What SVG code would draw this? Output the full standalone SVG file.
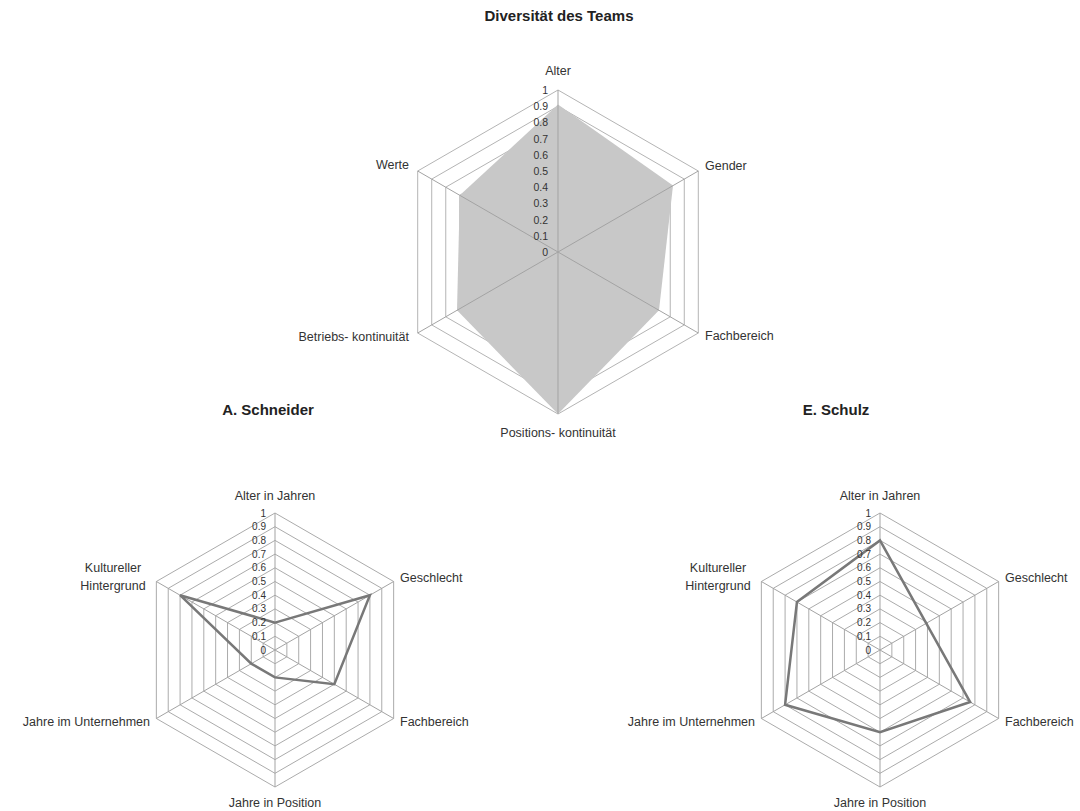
<svg xmlns="http://www.w3.org/2000/svg" width="1080" height="811" viewBox="0 0 1080 811">
<style>
text{font-family:"Liberation Sans",Arial,sans-serif;fill:#333}
.title{font-size:15px;font-weight:bold;fill:#222;text-anchor:middle}
.lab{font-size:12.5px}
.tick{font-size:10px;text-anchor:end;dominant-baseline:central}
.tickT{font-size:10.5px;text-anchor:end;dominant-baseline:central}
.mid{text-anchor:middle}
.end{text-anchor:end}
.ring{fill:none;stroke:#ababab;stroke-width:1}
.ringT{fill:none;stroke:#b4b4b4;stroke-width:1}
.spoke{stroke:#a3a3a3;stroke-width:1}
.area{fill:#c8c8c8;stroke:none}
.data{fill:none;stroke:#787878;stroke-width:2.5;stroke-linejoin:miter}
</style>
<rect width="1080" height="811" fill="#fff"/>

<g id="chart-team">
<text class="title" x="559" y="21">Diversität des Teams</text>
<g transform="translate(558,252)">
<polygon class="ringT" points="0,-113.4 98.21,-56.7 98.21,56.7 0,113.4 -98.21,56.7 -98.21,-56.7"/>
<polygon class="ringT" points="0,-129.6 112.24,-64.8 112.24,64.8 0,129.6 -112.24,64.8 -112.24,-64.8"/>
<polygon class="ringT" points="0,-145.8 126.27,-72.9 126.27,72.9 0,145.8 -126.27,72.9 -126.27,-72.9"/>
<polygon class="ringT" points="0,-162 140.3,-81 140.3,81 0,162 -140.3,81 -140.3,-81"/>
<polygon class="area" points="0,-147.4 115,-66.4 101,58.3 0,162 -101,58.3 -98.2,-56.7"/>
<line class="spoke" x1="0" y1="0" x2="0" y2="-162"/>
<line class="spoke" x1="0" y1="0" x2="140.3" y2="-81"/>
<line class="spoke" x1="0" y1="0" x2="140.3" y2="81"/>
<line class="spoke" x1="0" y1="0" x2="0" y2="162"/>
<line class="spoke" x1="0" y1="0" x2="-140.3" y2="81"/>
<line class="spoke" x1="0" y1="0" x2="-140.3" y2="-81"/>
<text class="tickT" x="-10" y="-162">1</text>
<text class="tickT" x="-10" y="-145.8">0.9</text>
<text class="tickT" x="-10" y="-129.6">0.8</text>
<text class="tickT" x="-10" y="-113.4">0.7</text>
<text class="tickT" x="-10" y="-97.2">0.6</text>
<text class="tickT" x="-10" y="-81">0.5</text>
<text class="tickT" x="-10" y="-64.8">0.4</text>
<text class="tickT" x="-10" y="-48.6">0.3</text>
<text class="tickT" x="-10" y="-32.4">0.2</text>
<text class="tickT" x="-10" y="-16.2">0.1</text>
<text class="tickT" x="-10" y="0">0</text>
</g>
<text class="lab mid" x="558" y="75">Alter</text>
<text class="lab" x="705" y="170">Gender</text>
<text class="lab" x="705" y="340">Fachbereich</text>
<text class="lab mid" x="558" y="437">Positions- kontinuität</text>
<text class="lab end" x="409" y="341">Betriebs- kontinuität</text>
<text class="lab end" x="409" y="169">Werte</text>
</g>

<defs>
<g id="grid">
<polygon class="ring" points="0,-13.7 11.86,-6.85 11.86,6.85 0,13.7 -11.86,6.85 -11.86,-6.85"/>
<polygon class="ring" points="0,-27.4 23.73,-13.7 23.73,13.7 0,27.4 -23.73,13.7 -23.73,-13.7"/>
<polygon class="ring" points="0,-41.1 35.59,-20.55 35.59,20.55 0,41.1 -35.59,20.55 -35.59,-20.55"/>
<polygon class="ring" points="0,-54.8 47.46,-27.4 47.46,27.4 0,54.8 -47.46,27.4 -47.46,-27.4"/>
<polygon class="ring" points="0,-68.5 59.32,-34.25 59.32,34.25 0,68.5 -59.32,34.25 -59.32,-34.25"/>
<polygon class="ring" points="0,-82.2 71.19,-41.1 71.19,41.1 0,82.2 -71.19,41.1 -71.19,-41.1"/>
<polygon class="ring" points="0,-95.9 83.05,-47.95 83.05,47.95 0,95.9 -83.05,47.95 -83.05,-47.95"/>
<polygon class="ring" points="0,-109.6 94.92,-54.8 94.92,54.8 0,109.6 -94.92,54.8 -94.92,-54.8"/>
<polygon class="ring" points="0,-123.3 106.78,-61.65 106.78,61.65 0,123.3 -106.78,61.65 -106.78,-61.65"/>
<polygon class="ring" points="0,-137 118.65,-68.5 118.65,68.5 0,137 -118.65,68.5 -118.65,-68.5"/>
<line class="spoke" x1="0" y1="0" x2="0" y2="-137"/>
<line class="spoke" x1="0" y1="0" x2="118.65" y2="-68.5"/>
<line class="spoke" x1="0" y1="0" x2="118.65" y2="68.5"/>
<line class="spoke" x1="0" y1="0" x2="0" y2="137"/>
<line class="spoke" x1="0" y1="0" x2="-118.65" y2="68.5"/>
<line class="spoke" x1="0" y1="0" x2="-118.65" y2="-68.5"/>
</g>
<g id="ticks">
<text class="tick" x="-9" y="-137">1</text>
<text class="tick" x="-9" y="-123.3">0.9</text>
<text class="tick" x="-9" y="-109.6">0.8</text>
<text class="tick" x="-9" y="-95.9">0.7</text>
<text class="tick" x="-9" y="-82.2">0.6</text>
<text class="tick" x="-9" y="-68.5">0.5</text>
<text class="tick" x="-9" y="-54.8">0.4</text>
<text class="tick" x="-9" y="-41.1">0.3</text>
<text class="tick" x="-9" y="-27.4">0.2</text>
<text class="tick" x="-9" y="-13.7">0.1</text>
<text class="tick" x="-9" y="0">0</text>
</g>
</defs>

<g id="chart-schneider">
<text class="title" x="268" y="415">A. Schneider</text>
<g transform="translate(275,650)">
<use href="#grid"/>
<polygon class="data" points="0,-27.4 94.92,-54.8 59.32,34.25 0,27.4 -23.73,13.7 -94.92,-54.8"/>
<use href="#ticks"/>
</g>
<text class="lab mid" x="275" y="500">Alter in Jahren</text>
<text class="lab" x="400" y="582">Geschlecht</text>
<text class="lab" x="400" y="726">Fachbereich</text>
<text class="lab mid" x="275" y="807">Jahre in Position</text>
<text class="lab end" x="150" y="726">Jahre im Unternehmen</text>
<text class="lab mid" x="113" y="572">Kultureller</text>
<text class="lab mid" x="113" y="590">Hintergrund</text>
</g>

<g id="chart-schulz">
<text class="title" x="836" y="415">E. Schulz</text>
<g transform="translate(880,650)">
<use href="#grid"/>
<polygon class="data" points="0,-109.6 46.27,-26.7 90.17,52.06 0,82.2 -94.92,54.8 -83.05,-47.95"/>
<use href="#ticks"/>
</g>
<text class="lab mid" x="880" y="500">Alter in Jahren</text>
<text class="lab" x="1005" y="582">Geschlecht</text>
<text class="lab" x="1005" y="726">Fachbereich</text>
<text class="lab mid" x="880" y="807">Jahre in Position</text>
<text class="lab end" x="755" y="726">Jahre im Unternehmen</text>
<text class="lab mid" x="718" y="572">Kultureller</text>
<text class="lab mid" x="718" y="590">Hintergrund</text>
</g>
</svg>
